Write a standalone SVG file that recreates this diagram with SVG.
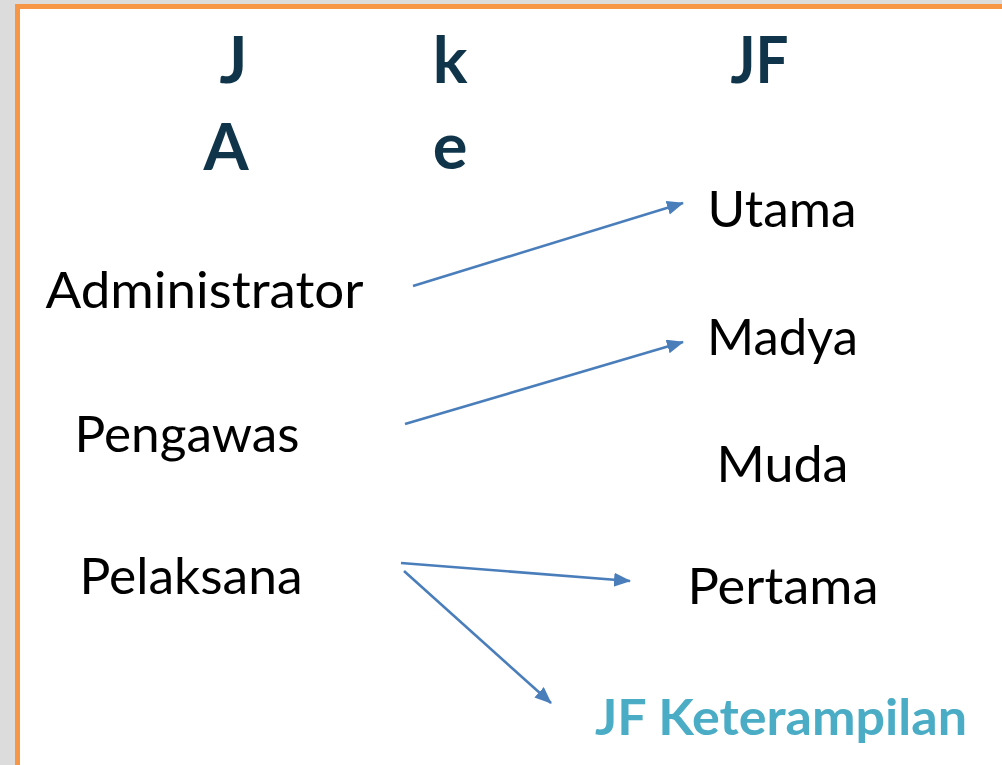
<svg xmlns="http://www.w3.org/2000/svg" width="1002" height="765" viewBox="0 0 1002 765">
<style>
.hd{font-family:Lato,"Open Sans","Liberation Sans",sans-serif;font-weight:bold;font-size:65px;fill:#10354A;text-anchor:middle}
.lb{font-family:Lato,"Open Sans","Liberation Sans",sans-serif;font-size:50px;fill:#000;text-anchor:middle}
.jk{font-family:Lato,"Open Sans","Liberation Sans",sans-serif;font-weight:bold;font-size:50px;fill:#4BACC6;text-anchor:middle}
.cn{stroke:#4A7EBB;stroke-width:2.6;fill:none;marker-end:url(#ah)}
</style>
<defs>
<marker id="ah" markerUnits="userSpaceOnUse" markerWidth="18" markerHeight="16" refX="16" refY="7" orient="auto">
<path d="M0,0 L17,7 L0,14 z" fill="#4A7EBB"/>
</marker>
</defs>
<rect x="0" y="0" width="1002" height="765" fill="#DCDCDC"/>
<rect x="15" y="4" width="987" height="761" fill="#F79646"/>
<rect x="20" y="9" width="982" height="756" fill="#FFFFFF"/>
<g id="headers">
<text class="hd" x="233.5" y="83">J</text>
<text class="hd" x="226" y="170">A</text>
<text class="hd" x="450" y="83">k</text>
<text class="hd" x="450" y="169">e</text>
<text class="hd" x="759.5" y="83" textLength="58" lengthAdjust="spacingAndGlyphs">JF</text>
</g>
<g id="node-administrator"><text class="lb" x="204.5" y="308" textLength="318" lengthAdjust="spacingAndGlyphs">Administrator</text></g>
<g id="node-pengawas"><text class="lb" x="187" y="452" textLength="225" lengthAdjust="spacingAndGlyphs">Pengawas</text></g>
<g id="node-pelaksana"><text class="lb" x="191" y="594" textLength="223" lengthAdjust="spacingAndGlyphs">Pelaksana</text></g>
<g id="node-utama"><text class="lb" x="782" y="227" textLength="149" lengthAdjust="spacingAndGlyphs">Utama</text></g>
<g id="node-madya"><text class="lb" x="782.5" y="355" textLength="151" lengthAdjust="spacingAndGlyphs">Madya</text></g>
<g id="node-muda"><text class="lb" x="782.5" y="482" textLength="132" lengthAdjust="spacingAndGlyphs">Muda</text></g>
<g id="node-pertama"><text class="lb" x="783" y="604" textLength="191" lengthAdjust="spacingAndGlyphs">Pertama</text></g>
<g id="node-jf-keterampilan"><text class="jk" x="781" y="735" textLength="372" lengthAdjust="spacingAndGlyphs">JF Keterampilan</text></g>
<g id="connectors">
<line class="cn" x1="413" y1="286" x2="683" y2="203"/>
<line class="cn" x1="405" y1="424" x2="683" y2="342"/>
<line class="cn" x1="401" y1="563" x2="630" y2="581"/>
<line class="cn" x1="404" y1="571" x2="551" y2="703"/>
</g>
</svg>
